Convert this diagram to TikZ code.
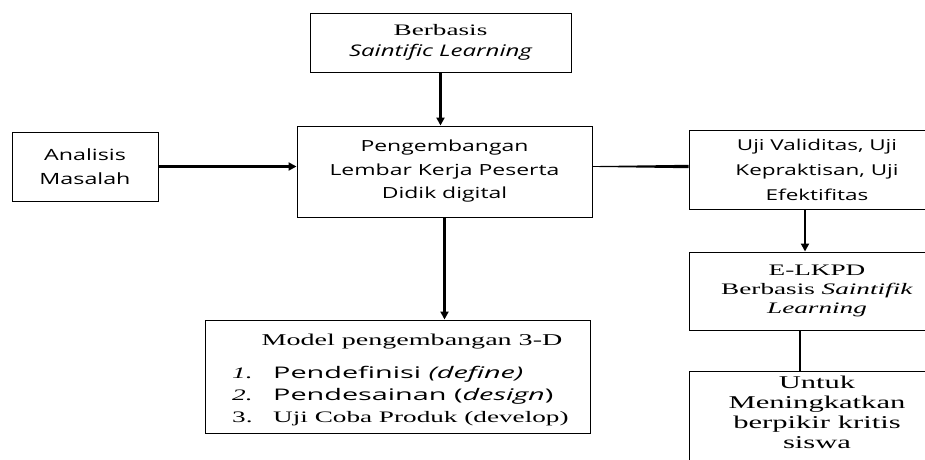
\documentclass[tikz,border=0pt]{standalone}
\usepackage{fontspec}
\setmainfont{Liberation Serif}[FakeStretch=1.7]
\newfontfamily\osans{Open Sans}[FakeStretch=1.5]
\newfontfamily\wsans{Open Sans}[FakeStretch=1.8]
\usetikzlibrary{arrows.meta,calc}
\begin{document}
\begin{tikzpicture}[x=1pt,y=-1pt,
  box/.style={draw, line width=1pt, inner sep=0pt, align=center},
  txt/.style={inner sep=0pt, anchor=base west},
  sansA/.style={font=\osans\fontsize{15.5}{24}\selectfont},
  serifA/.style={font=\rmfamily\fontsize{16}{19}\selectfont},
  listsans/.style={txt, font=\wsans\fontsize{16}{22}\selectfont},
  listserif/.style={txt, font=\rmfamily\fontsize{16}{22}\selectfont},
  arr/.style={-{Triangle[length=8pt,width=8pt]}, line width=2.2pt},
  plain/.style={line width=1.8pt}]
\useasboundingbox (0,0) rectangle (925,459);
\clip (0,0) rectangle (925,459);
\fill[white] (0,0) rectangle (925,459);

\node[box, minimum width=261pt, minimum height=59pt, font=\rmfamily\fontsize{16}{21}\selectfont] (top) at (440.5,42.5)
  {Berbasis\\{\osans\itshape\fontsize{16}{21}\selectfont Saintific Learning}};
\node[box, sansA, minimum width=146pt, minimum height=69pt] (ana) at (85,166.5)
  {Analisis\\Masalah};
\node[box, minimum width=295pt, minimum height=91pt, font=\osans\fontsize{15.3}{23.5}\selectfont] (main) at (444.5,171.5)
  {Pengembangan\\Lembar Kerja Peserta\\Didik digital};
\node[box, minimum width=256pt, minimum height=79pt, font=\osans\fontsize{15}{25}\selectfont] (uji) at (817,169.5)
  {Uji Validitas, Uji\\Kepraktisan, Uji\\Efektifitas};
\node[box, serifA, minimum width=256pt, minimum height=78pt] (elk) at (817,291)
  {E-LKPD\\Berbasis \textit{Saintifik}\\\textit{Learning}};
\node[box, minimum width=256pt, anchor=north, inner ysep=4pt, font=\rmfamily\fontsize{18}{20}\selectfont] (unt) at (817,371)
  {Untuk\\Meningkatkan\\berpikir kritis\\siswa\rule[-30pt]{0pt}{30pt}};

\node[box, minimum width=385pt, minimum height=113pt] (model) at (397.5,376.5) {};
\node[txt, anchor=base, font=\rmfamily\fontsize{16.5}{22}\selectfont] (mtitle) at (412,345) {Model pengembangan 3-D};
\node[listserif] (n1) at (232,378) {\textit{1.}};
\node[listsans] (t1) at (273,378) {Pendefinisi \textit{(define)}};
\node[listserif] (n2) at (232,400) {\textit{2.}};
\node[listsans] (t2) at (273,400) {Pendesainan (\textit{design})};
\node[listserif] (n3) at (232,422) {3.};
\node[listserif] (t3) at (273,422) {Uji Coba Produk (develop)};

\coordinate (ujiout) at ([xshift=-12pt]uji.south);
\coordinate (elkout) at ([xshift=-17pt]elk.south);
\coordinate (la) at (main.east |- ana.east);
\coordinate (lb) at (uji.west |- ana.east);

\draw[arr] (top.south) -- (top.south |- main.north);
\draw[arr] (ana.east) -- (ana.east -| main.west);
\fill ($(la)+(0,-0.4)$) -- ($(lb)+(0,-1.7)$) -- ($(lb)+(0,1.7)$) -- ($(la)+(0,0.4)$) -- cycle;
\draw[arr] (main.south) -- (main.south |- model.north);
\draw[arr] (ujiout) -- (ujiout |- elk.north);
\draw[plain, line width=1.3pt] (elkout) -- (elkout |- unt.north);
\end{tikzpicture}
\end{document}
